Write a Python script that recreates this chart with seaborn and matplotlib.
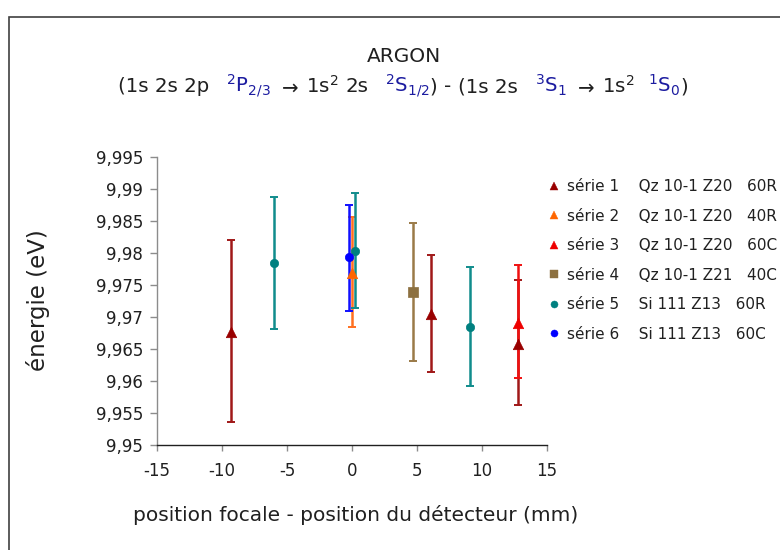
import numpy as np
import pandas as pd
import seaborn as sns
import matplotlib
matplotlib.use("Agg")
import matplotlib.pyplot as plt
from matplotlib.lines import Line2D
from matplotlib.patches import Rectangle
from matplotlib.offsetbox import TextArea, HPacker, DrawingArea, AnchoredOffsetbox

# ---------------- data ----------------
series_names = ["série 1", "série 2", "série 3", "série 4", "série 5", "série 6"]
series_desc = ["Qz 10-1 Z20   60R", "Qz 10-1 Z20   40R", "Qz 10-1 Z20   60C",
               "Qz 10-1 Z21   40C", "Si 111 Z13   60R", "Si 111 Z13   60C"]

s1_x = [-9.3, 6.1, 12.8]
s1_y = [9.9676, 9.9704, 9.9658]
s1_lo = [9.9536, 9.9614, 9.9563]
s1_hi = [9.9820, 9.9797, 9.9758]

s2_x = [0.0]
s2_y = [9.9768]
s2_lo = [9.9684]
s2_hi = [9.9856]

s3_x = [12.8]
s3_y = [9.9691]
s3_lo = [9.9605]
s3_hi = [9.9782]

s4_x = [4.7]
s4_y = [9.9739]
s4_lo = [9.9631]
s4_hi = [9.9847]

s5_x = [-6.0, 0.2, 9.05]
s5_y = [9.9784, 9.9803, 9.9684]
s5_lo = [9.9681, 9.9714, 9.9592]
s5_hi = [9.9888, 9.9893, 9.9778]

s6_x = [-0.2]
s6_y = [9.9793]
s6_lo = [9.9709]
s6_hi = [9.9875]

x_ticks = [-15, -10, -5, 0, 5, 10, 15]
y_ticks = [9.95, 9.955, 9.96, 9.965, 9.97, 9.975, 9.98, 9.985, 9.99, 9.995]
y_tick_labels = ["9,95", "9,955", "9,96", "9,965", "9,97", "9,975",
                 "9,98", "9,985", "9,99", "9,995"]

# ---------------- styles ----------------
marker_colors = ["#990000", "#ff6600", "#ee0000", "#8c7040", "#008080", "#0000ff"]
bar_colors = ["#a01818", "#ff7020", "#f01010", "#9a7a48", "#108c8c", "#1010ff"]
markers = ["^", "^", "^", "s", "o", "o"]
msizes = [7.5, 7.5, 7.5, 6.5, 6, 6]

sns.set_style("white")
plt.rcParams["font.family"] = ["DejaVu Sans"]
plt.rcParams["mathtext.fontset"] = "dejavusans"

W, H = 780, 550
fig = plt.figure(figsize=(W / 100, H / 100), dpi=100)
fig.patch.set_facecolor("white")
ax = fig.add_axes([157 / W, 1 - 445 / H, 390 / W, 288 / H])

all_x = [s1_x, s2_x, s3_x, s4_x, s5_x, s6_x]
all_y = [s1_y, s2_y, s3_y, s4_y, s5_y, s6_y]
all_lo = [s1_lo, s2_lo, s3_lo, s4_lo, s5_lo, s6_lo]
all_hi = [s1_hi, s2_hi, s3_hi, s4_hi, s5_hi, s6_hi]

frames = []
for name, xs, ys, los, his in zip(series_names, all_x, all_y, all_lo, all_hi):
    frames.append(pd.DataFrame({"x": xs, "y": ys, "lo": los, "hi": his, "serie": name}))
df = pd.concat(frames, ignore_index=True)

for i, name in enumerate(series_names):
    d = df[df["serie"] == name]
    yerr = np.vstack([d["y"] - d["lo"], d["hi"] - d["y"]])
    ax.errorbar(d["x"], d["y"], yerr=yerr, fmt="none", ecolor=bar_colors[i],
                elinewidth=1.8, capsize=2.6, capthick=1.4, zorder=2 + i * 0.1)
    sns.scatterplot(data=d, x="x", y="y", ax=ax, color=marker_colors[i],
                    marker=markers[i], s=msizes[i] ** 2, edgecolor=marker_colors[i],
                    linewidth=0.5, legend=False, zorder=3 + i * 0.1)

ax.set_xlim(-15, 15)
ax.set_ylim(9.95, 9.995)
ax.set_xticks(x_ticks)
ax.set_xticklabels([str(t) for t in x_ticks])
ax.set_yticks(y_ticks)
ax.set_yticklabels(y_tick_labels)
ax.set_xlabel("")
ax.set_ylabel("")
for s in ["top", "right"]:
    ax.spines[s].set_visible(False)
ax.spines["left"].set_color("#8c8c8c")
ax.spines["left"].set_linewidth(1.0)
ax.spines["bottom"].set_color("#202020")
ax.spines["bottom"].set_linewidth(1.0)
ax.tick_params(axis="y", direction="out", length=5, width=1, color="#8c8c8c",
               labelsize=12, pad=5, left=True, labelcolor="#202020")
ax.tick_params(axis="x", direction="out", length=4, width=1, color="#8c8c8c",
               labelsize=12, pad=8, bottom=True, labelcolor="#202020")
ax.grid(False)

# axis labels
fig.text(38 / W, 1 - 300 / H, "énergie (eV)", rotation=90, ha="center", va="center",
         fontsize=16.5, color="#202020")
fig.text(356 / W, 1 - 515 / H, "position focale - position du détecteur (mm)",
         ha="center", va="center", fontsize=14.5, color="#202020")

# title
fig.text(404 / W, 1 - 57 / H, "ARGON", ha="center", va="center", fontsize=14.5, color="#202020")
blue = "#1c1ca0"
black = "#202020"
tsize = 14.2


def ta(txt, col):
    return TextArea(txt, textprops=dict(color=col, fontsize=tsize))


def sp(w):
    return DrawingArea(w, 1)


parts = [ta("(1s 2s 2p", black), sp(12), ta(r"$^{2}\mathrm{P}_{2/3}$", blue), sp(5),
         ta(r"$\rightarrow$", black), sp(5), ta(r"1s$^{2}$", black), sp(5), ta("2s", black),
         sp(12), ta(r"$^{2}\mathrm{S}_{1/2}$", blue), ta(")", black), sp(5), ta("-", black),
         sp(5), ta("(1s 2s", black), sp(12), ta(r"$^{3}\mathrm{S}_{1}$", blue), sp(5),
         ta(r"$\rightarrow$", black), sp(5), ta(r"1s$^{2}$", black), sp(10),
         ta(r"$^{1}\mathrm{S}_{0}$", blue), ta(")", black)]
hp = HPacker(children=parts, align="baseline", pad=0, sep=0)
ab = AnchoredOffsetbox(loc="center", child=hp, pad=0, frameon=False,
                       bbox_to_anchor=(403 / W, 1 - 86 / H), bbox_transform=fig.transFigure,
                       borderpad=0)
fig.add_artist(ab)

# legend
handles = [Line2D([0], [0], marker=markers[i], color=marker_colors[i], linestyle="none",
                  markersize=msizes[i] * 0.85, markeredgewidth=0.3)
           for i in range(len(series_names))]
labels = [f"{n}    {d}" for n, d in zip(series_names, series_desc)]
fig.legend(handles, labels, loc="upper left", bbox_to_anchor=(549 / W, 1 - 179 / H),
           frameon=False, fontsize=11, handlelength=0.7, handletextpad=0.45,
           labelspacing=0.95, borderpad=0, borderaxespad=0, labelcolor="#202020")

# outer frame
fig.add_artist(Rectangle((8.5 / W, -0.1), 1.2, 1 - 16.5 / H + 0.1, transform=fig.transFigure,
                         fill=False, edgecolor="#404040", linewidth=1.2))

fig.savefig("out.png", dpi=100)
